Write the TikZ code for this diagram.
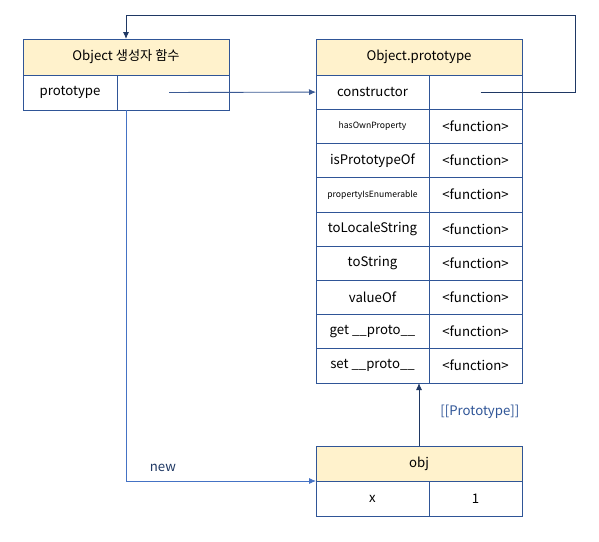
\documentclass[tikz,border=0pt]{standalone}
\usepackage{fontspec}
\setmainfont{Noto Sans CJK KR}
\usepackage{xcolor}
\usetikzlibrary{arrows.meta,calc,positioning}
\definecolor{objLine}{HTML}{2F5597}
\definecolor{objHead}{HTML}{FFF2CC}
\definecolor{objNavy}{HTML}{1F3864}
\definecolor{objBlue}{HTML}{4472C4}
\definecolor{objMid}{HTML}{3B5A94}

\begin{document}
\begin{tikzpicture}[x=1pt,y=-1pt,>=Latex,font=\fontsize{13.2}{15}\selectfont]
  \tikzset{
    head/.style={draw=objLine,fill=objHead,minimum width=206pt,minimum height=35pt,inner sep=0pt,outer sep=0pt},
    keycell/.style={draw=objLine,fill=white,minimum width=113pt,minimum height=34.2pt,inner sep=0pt,outer sep=0pt},
    valcell/.style={draw=objLine,fill=white,minimum width=93pt,minimum height=34.2pt,inner sep=0pt,outer sep=0pt},
    link/.style={draw=objNavy,line width=.9pt,-{Latex[length=7pt,width=6pt]}},
    note/.style={inner sep=1pt}
  }
  \useasboundingbox (0,0) rectangle (599,541);
  % constructor function
  \node[head,minimum height=36pt] (ctor) at (126,57) {Object 생성자 함수};
  \node[keycell,minimum width=94pt,minimum height=35pt] (pkey) at (70,92.5) {prototype};
  \node[valcell,minimum width=112pt,minimum height=35pt] (pval) at (173,92.5) {};
  % Object.prototype
  \node[head,minimum height=36pt] (proto) at (419,57) {Object.prototype};
  \node[keycell] (k1) at (372.5,92.1) {constructor};
  \node[valcell] (v1) at (475.5,92.1) {};
  \foreach \i/\lbl/\fs in {2/hasOwnProperty/8.6,3/isPrototypeOf/13.2,4/propertyIsEnumerable/8.6,5/toLocaleString/13.2,6/toString/13.2,7/valueOf/13.2,8/get \_\_proto\_\_/13.2,9/set \_\_proto\_\_/13.2}{
    \node[keycell,font=\fontsize{\fs}{\fs}\selectfont] (k\i) at (372.5,{75+34.2*(\i-.5)}) {\lbl};
    \node[valcell] (v\i) at (475.5,{75+34.2*(\i-.5)}) {<function>};
  }
  % obj
  \node[head] (obj) at (419,463.5) {obj};
  \node[keycell,minimum height=35pt] (xkey) at (372.5,498.5) {x};
  \node[valcell,minimum height=35pt] (xval) at (475.5,498.5) {1};
  % connectors
  \coordinate (loopCorner) at (575,15);
  \coordinate (ctorBottom) at (126,110);
  \coordinate (protoBottom) at (419,383);
  \draw[link] ([xshift=5pt]v1.center) -| (loopCorner) -| (ctor.north);
  \draw[link,draw=objMid] ([xshift=-4pt]pval.center) -- (k1.west);
  \draw[link,draw=objBlue,line width=.8pt] (ctorBottom) |- node[note,pos=.597,above=8pt,text=objNavy] {new} (obj.south west);
  \draw[link] (obj.north) -- node[note,right=20pt,yshift=3pt,text=objLine] {[[Prototype]]} (protoBottom);
\end{tikzpicture}
\end{document}
